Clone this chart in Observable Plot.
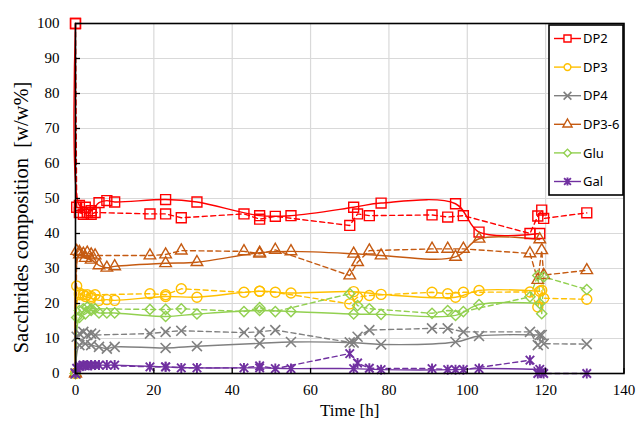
<!DOCTYPE html>
<html><head><meta charset="utf-8">
<script src="https://cdn.jsdelivr.net/npm/d3@7"></script>
<script src="https://cdn.jsdelivr.net/npm/@observablehq/plot@0.6"></script>
<style>
body{margin:0;background:#fff;}
#wrap{position:relative;width:636px;height:431px;}
#legend{position:absolute;left:548px;top:24px;}
</style></head><body><div id="wrap"></div>
<script>
// Series names, colours, marker types
const series = ["DP2", "DP3", "DP4", "DP3-6", "Glu", "Gal"];
const colors = ["#FF0000", "#FFC000", "#808080", "#C55A11", "#92D050", "#7030A0"];
const radii = [5.6, 5, 4.6, 4.3, 4.6, 5];

// Ticks
const xTicks = [0, 20, 40, 60, 80, 100, 120, 140];
const yTicks = [0, 10, 20, 30, 40, 50, 60, 70, 80, 90, 100];

// Run A (solid, smoothed line) — time [h]
const timeA = [0, 1, 2.5, 4, 6, 8, 10, 23, 31, 47, 55, 71, 78, 97, 103, 118.5];
const dp2A  = [100, 48, 47.5, 46.5, 48.8, 49.4, 49, 49.7, 49, 45.1, 45.1, 47.5, 48.7, 48.5, 40.4, 40];
const dp3A  = [0, 22.5, 22, 21.5, 20.9, 21.1, 20.9, 22, 21.8, 23.5, 23, 23.4, 22.6, 21.8, 23.7, 23.5];
const dp4A  = [0, 8.1, 8.5, 8.1, 7.6, 7.1, 7.6, 7.3, 7.8, 8.6, 9, 8.8, 8.3, 9, 10.7, 11];
const dp36A = [0, 34, 33, 32.5, 30.9, 30.2, 30.6, 31.5, 31.8, 34.5, 34.9, 34.2, 33.7, 33.3, 38.5, 38.3];
const gluA  = [0, 16, 17, 18, 17.3, 17.3, 17.3, 16.3, 17, 18, 17.7, 17, 16.9, 16.6, 19.7, 20];
const galA  = [0, 2, 2.2, 2.3, 2.4, 2.4, 2.4, 1.9, 1.6, 1.6, 1.4, 1.4, 1.1, 1.1, 1.4, 1.2];

// Run B (dashed line) — time [h]
const timeB = [0, 0.3, 1, 2, 3, 4, 5, 19, 23, 27, 43, 47, 51, 70, 72, 75, 91, 95, 99, 116, 118, 119, 119.5, 130.5];
const dp2B  = [100, 47.5, 46, 45.5, 46, 45.5, 46, 45.6, 45.6, 44.5, 45.6, 44.1, 44.9, 42.3, 45.6, 45.1, 45.3, 44.7, 45.1, 40, 45, 46.7, 44.3, 45.9];
const dp3B  = [0, 25, 23, 22.5, 22.5, 22, 22.5, 22.8, 22.5, 24.2, 23.2, 23.5, 23.2, 19.9, 21.8, 22.3, 23.2, 22.8, 23.2, 23.3, 19, 23.8, 21.5, 21.2];
const dp4B  = [0, 10.5, 11.4, 11.9, 11, 11.4, 11, 11.4, 11.9, 12.2, 11.7, 11.9, 12.4, 8.9, 10.5, 12.4, 12.9, 12.9, 11.9, 11.9, 8.1, 11, 8.5, 8.4];
const dp36B = [0, 35, 34.7, 34.2, 34.5, 34, 33.7, 33.7, 34, 35.1, 34.9, 34.2, 35.3, 28, 31.8, 35.1, 35.6, 35.6, 35.6, 34.3, 26.7, 35.2, 28.1, 29.5];
const gluB  = [0, 16, 18, 18.5, 19, 18.5, 18.5, 18.3, 18.3, 18.5, 17.7, 18.8, 17.7, 22.8, 19.4, 18.5, 17.2, 18, 17.7, 21.9, 28, 17.1, 27.6, 24];
const galB  = [0, 1.5, 2.2, 2.4, 2.4, 2.4, 2.4, 1.9, 1.9, 1.6, 1.6, 2.2, 1.4, 5.7, 3, 1.5, 1.4, 1.1, 1.1, 3.8, 0, 0.5, 0, 0];

const xLabel = "Time [h]";
const yLabel = "Sacchrides composition  [w/w%]";

// Excel-like star marker: an "x" plus a vertical bar
const starSymbol = {
  draw(context, size) {
    const r = Math.sqrt(size / Math.PI);
    const a = r * 0.85;
    context.moveTo(-a, -a); context.lineTo(a, a);
    context.moveTo(a, -a); context.lineTo(-a, a);
    context.moveTo(0, -r); context.lineTo(0, r);
  }
};
const symbols = [d3.symbolSquare, d3.symbolCircle, d3.symbolTimes, d3.symbolTriangle, d3.symbolDiamond2, starSymbol];
const strokeWs = [1.4, 1.4, 1.6, 1.4, 1.4, 1.9];

function build(times, arrs) {
  const out = [];
  series.forEach((s, i) => times.forEach((t, j) => out.push({series: s, t, v: arrs[i][j]})));
  return out;
}
const rowsA = build(timeA, [dp2A, dp3A, dp4A, dp36A, gluA, galA]);
const rowsB = build(timeB, [dp2B, dp3B, dp4B, dp36B, gluB, galB]);

const serif = "'Liberation Serif', 'Times New Roman', serif";
const dotMarks = [];
series.forEach((s, i) => {
  const opts = {x: "t", y: "v", stroke: colors[i], fill: "none", symbol: symbols[i], r: radii[i], strokeWidth: strokeWs[i]};
  dotMarks.push(Plot.dot(rowsB.filter(d => d.series === s), opts));
  dotMarks.push(Plot.dot(rowsA.filter(d => d.series === s), opts));
});

const plot = Plot.plot({
  width: 636, height: 431,
  marginLeft: 75, marginRight: 12.5, marginTop: 23, marginBottom: 58,
  style: {fontFamily: serif, fontSize: "15px", background: "#fff", color: "#000"},
  x: {domain: [0, 140]},
  y: {domain: [0, 100]},
  color: {domain: series, range: colors},
  marks: [
    Plot.gridX(xTicks, {stroke: "#D9D9D9", strokeOpacity: 1, strokeWidth: 1.2}),
    Plot.gridY(yTicks, {stroke: "#D9D9D9", strokeOpacity: 1, strokeWidth: 1.2}),
    Plot.line(rowsB, {x: "t", y: "v", z: "series", stroke: "series", strokeWidth: 1.4, strokeDasharray: "5,3.5"}),
    Plot.line(rowsA, {x: "t", y: "v", z: "series", stroke: "series", strokeWidth: 1.4, curve: "catmull-rom"}),
    ...dotMarks,
    Plot.frame({stroke: "#000", strokeWidth: 1.6}),
    Plot.axisX(xTicks, {tickSize: 0, tickPadding: 11, label: null, fontFamily: serif, fontSize: 15}),
    Plot.axisY(yTicks, {tickSize: 0, tickPadding: 16, label: null, fontFamily: serif, fontSize: 15}),
    Plot.axisX(xTicks, {tickSize: -5, tickFormat: () => "", label: null, strokeWidth: 1.3}),
    Plot.axisY(yTicks, {tickSize: -5, tickFormat: () => "", label: null, strokeWidth: 1.3}),
    Plot.text([xLabel], {frameAnchor: "bottom", dy: 42, fontSize: 17, fontFamily: serif}),
    Plot.text([yLabel], {frameAnchor: "left", textAnchor: "middle", dx: -54, dy: 19, rotate: -90, fontSize: 20.5, fontFamily: serif})
  ]
});
document.getElementById("wrap").appendChild(plot);
d3.select(plot).selectAll("text").style("font-family", serif);

// Legend overlay (inside plot, top-right)
const lw = 75, lh = 171;
const lg = d3.select("#wrap").append("svg").attr("id", "legend").attr("width", lw + 2).attr("height", lh + 2);
lg.append("rect").attr("x", 1).attr("y", 1).attr("width", lw - 1).attr("height", lh - 1)
  .attr("fill", "#fff").attr("stroke", "#000").attr("stroke-width", 1.6);
const legendR = [4, 3.4, 3.6, 3.4, 3.4, 4];
series.forEach((s, i) => {
  const y = 14.5 + i * 28.6;
  const g = lg.append("g");
  g.append("line").attr("x1", 6).attr("x2", 33).attr("y1", y).attr("y2", y).attr("stroke", colors[i]).attr("stroke-width", 1.4);
  g.append("path").attr("d", d3.symbol(symbols[i], Math.PI * legendR[i] * legendR[i])())
    .attr("transform", `translate(19.5,${y})`).attr("fill", "#fff").attr("stroke", colors[i]).attr("stroke-width", strokeWs[i]);
  g.append("text").attr("x", 35).attr("y", y).attr("dy", "0.36em")
    .style("font-family", "'Noto Sans', 'Open Sans', sans-serif").attr("font-size", 13).attr("fill", "#000").text(s);
});
</script></body></html>
